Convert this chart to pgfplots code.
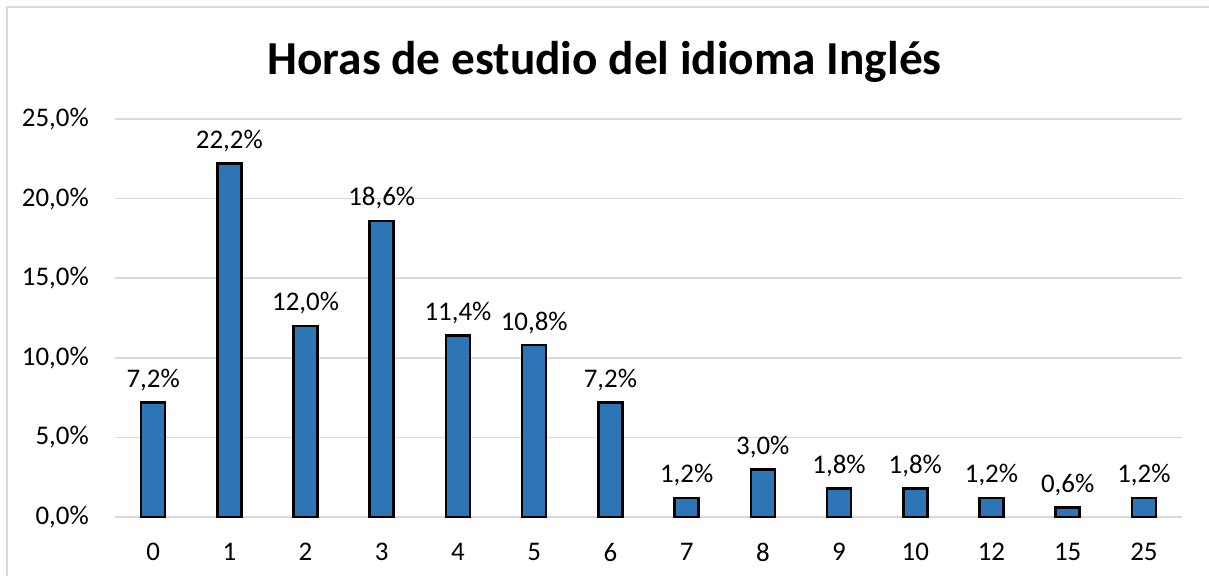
\documentclass[border=0pt]{standalone}
\usepackage{pgfplots}
\pgfplotsset{compat=1.18}
\usepackage{fontspec}
\setmainfont{Carlito}
\definecolor{barblue}{HTML}{2E75B6}
\definecolor{gridgray}{HTML}{D9D9D9}
\begin{document}
\begin{tikzpicture}
\useasboundingbox (0bp,0bp) rectangle (1209bp,576bp);
\draw[gridgray, line width=1.5bp] (7bp,-20bp) -- (7bp,569bp) -- (1230bp,569bp);
\node[font=\fontsize{47.5}{56}\selectfont\bfseries] at (604.5bp,514bp) {Horas de estudio del idioma Inglés};
\begin{axis}[
  at={(115bp,59bp)}, anchor=south west,
  scale only axis, width=1067bp, height=398bp,
  ymin=0, ymax=25, xmin=-0.5, xmax=13.5,
  ytick={0,5,10,15,20,25},
  xtick={0,...,13},
  xticklabels={0,1,2,3,4,5,6,7,8,9,10,12,15,25},
  ymajorgrids, grid style={gridgray, line width=1.5bp},
  axis line style={draw=none},
  major tick length=0pt,
  tick label style={font=\fontsize{27}{32}\selectfont},
  /pgf/number format/assume math mode=true,
  yticklabel={\pgfmathprintnumber[fixed,fixed zerofill,precision=1,use comma]{\tick}\%},
  yticklabel style={anchor=east, inner sep=0pt, xshift=-26bp},
  xticklabel style={anchor=north, inner sep=0pt, yshift=-26bp},
  clip=false,
]
\draw[gridgray, line width=1.5bp] (axis cs:-0.5,0) -- (axis cs:13.5,0);
\addplot[ybar, bar width=24bp, fill=barblue, draw=black, line width=2.6bp,
  nodes near coords={\pgfmathprintnumber[fixed,fixed zerofill,precision=1,use comma,assume math mode=true]{\pgfplotspointmeta}\%},
  every node near coord/.append style={font=\fontsize{27}{32}\selectfont, anchor=base, inner sep=0pt, yshift=15bp, text=black},
] coordinates {
(0,7.2) (1,22.2) (2,12.0) (3,18.6) (4,11.4) (5,10.8) (6,7.2) (7,1.2) (8,3.0) (9,1.8) (10,1.8) (11,1.2) (12,0.6) (13,1.2)
};
\end{axis}
\end{tikzpicture}
\end{document}
